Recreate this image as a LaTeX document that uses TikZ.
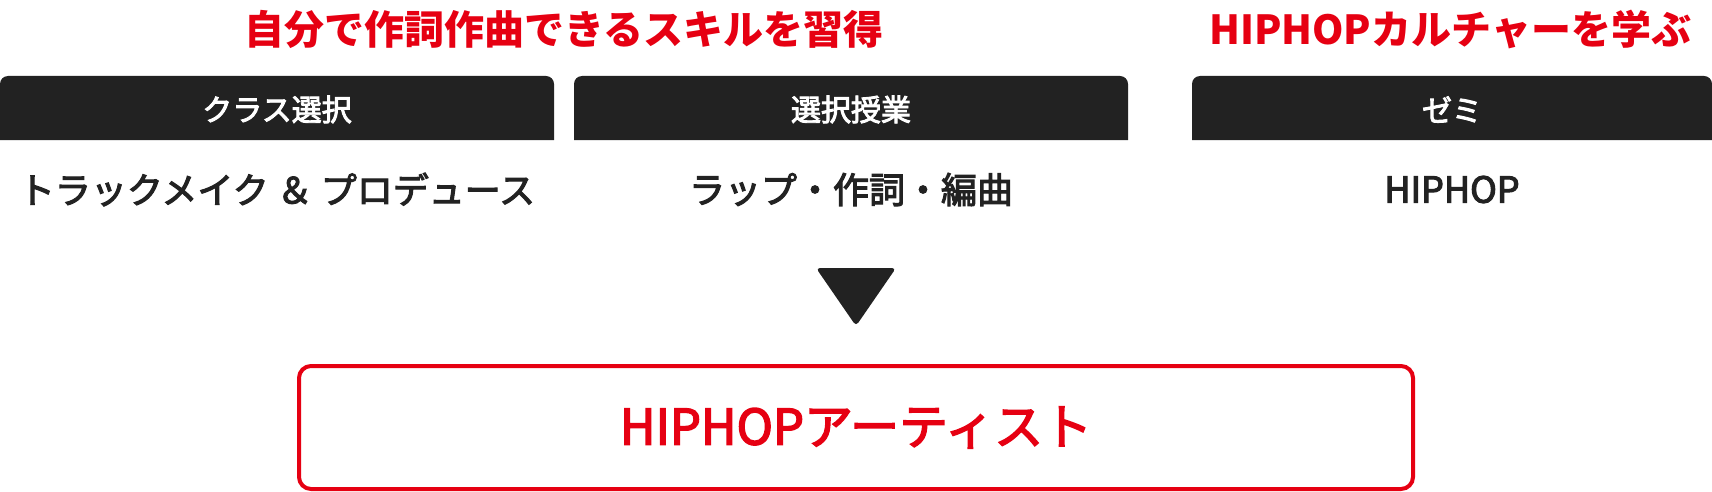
\documentclass[tikz,border=0pt]{standalone}
\usepackage{fontspec}
\setmainfont{Noto Sans CJK JP}
\newfontfamily\jpmedium{Noto Sans CJK JP}[FakeBold=3]
\usetikzlibrary{positioning}

\definecolor{hiphopred}{HTML}{E60012}
\definecolor{barblack}{HTML}{222222}

\tikzset{
  lead/.style={text=hiphopred, font=\fontsize{40}{40}\selectfont\bfseries, inner sep=0pt},
  bartext/.style={text=white, font=\fontsize{30}{30}\selectfont\jpmedium, inner sep=0pt},
  course/.style={text=barblack, font=\fontsize{36}{36}\selectfont\jpmedium, inner sep=0pt},
  goal/.style={draw=hiphopred, line width=4pt, rounded corners=12pt, minimum width=1114pt,
    minimum height=123pt, text=hiphopred, font=\fontsize{49}{49}\selectfont\jpmedium}
}

\begin{document}
\begin{tikzpicture}[x=1pt,y=-1pt]
  \useasboundingbox (0,0) rectangle (1712,492);
  % red lead lines
  \node[lead] (leadskill) at (564,29.5) {自分で作詞作曲できるスキルを習得};
  \node[lead] (leadculture) at (1450,29.5) {HIPHOPカルチャーを学ぶ};
  % dark header bars, rounded on top only
  \fill[barblack] (0,140) [rounded corners=8] -- (0,76) -- (554,76) [sharp corners] -- (554,140) -- cycle;
  \fill[barblack] (574,140) [rounded corners=8] -- (574,76) -- (1128,76) [sharp corners] -- (1128,140) -- cycle;
  \fill[barblack] (1192,140) [rounded corners=8] -- (1192,76) -- (1712,76) [sharp corners] -- (1712,140) -- cycle;
  \node[bartext] (barclass) at (277,109.5) {クラス選択};
  \node[bartext] (barelective) at (851,109.5) {選択授業};
  \node[bartext] (barseminar) at (1452,109.5) {ゼミ};
  % courses
  \node[course] (courseclass) at (277,189.5) {トラックメイク ＆ プロデュース};
  \node[course] (courseelective) at (851,189.5) {ラップ・作詞・編曲};
  \node[course] (courseseminar) at (1452,189.5) {HIPHOP};
  % down marker
  \fill[barblack, rounded corners=4] (816,268) -- (896,268) -- (856,326) -- cycle;
  % result
  \node[goal] (artist) at (856,427.5) {HIPHOPアーティスト};
  %\draw[yellow] (0,429.5)--(1712,429.5); %guide line
\end{tikzpicture}
\end{document}
